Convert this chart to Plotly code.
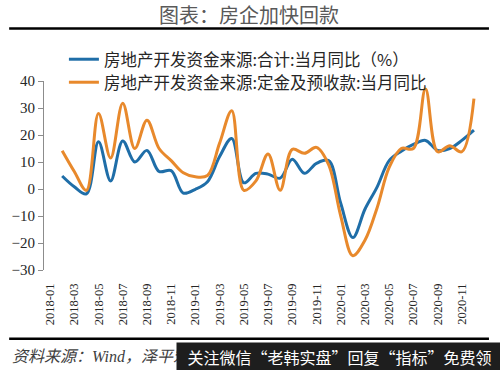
import plotly.graph_objects as go

months = [f"{y}-{m:02d}" for y in (2018, 2019, 2020) for m in range(1, 13)]
tick_labels = months[::2]

total_yoy = [None, 4.8, 0.8, -1.8, 17.5, 3.0, 17.8, 10.0, 14.3, 6.5, 6.8, -1.5,
             -0.1, 2.7, 12.0, 18.7, 2.3, 5.8, 5.5, 4.0, 11.0, 5.8, 9.5, 10.5,
             -5.3, -18.0, -7.5, 0.7, 10.5, 14.0, 16.5, 18.0, 14.3, 15.0, 18.0, 21.8]
deposit_yoy = [None, 14.2, 6.5, -0.5, 28.0, 11.5, 31.8, 15.0, 25.5, 15.0, 10.5, 6.0,
               4.5, 5.0, 17.0, 29.0, -0.5, 3.0, 13.0, -0.5, 14.7, 13.2, 15.4, 9.0,
               -10.0, -24.7, -19.0, -7.0, 8.0, 15.0, 15.0, 37.0, 13.8, 16.0, 13.8, 33.5]
boundary_ticks = [i + 1.5 for i in range(0, 35, 2)]

name_total = "房地产开发资金来源:合计:当月同比（%）"
name_deposit = "房地产开发资金来源:定金及预收款:当月同比"

W, H = 500, 370
ML, MR, MT, MB = 42, 20, 81, 100
PW, PH = W - ML - MR, H - MT - MB


def px(x):
    return (x - ML) / PW


def py(y):
    return (H - MB - y) / PH


fig = go.Figure()
fig.add_trace(go.Scatter(x=months, y=total_yoy, name=name_total, mode="lines",
                         legend="legend",
                         line=dict(color="#1F6EA8", width=3, shape="spline", smoothing=1.0)))
fig.add_trace(go.Scatter(x=months, y=deposit_yoy, name=name_deposit, mode="lines",
                         legend="legend2",
                         line=dict(color="#E8892C", width=3, shape="spline", smoothing=1.0)))

legend_font = dict(family="Noto Sans CJK SC", size=16.5, color="#262626")
fig.update_layout(
    width=W, height=H,
    margin=dict(l=ML, r=MR, t=MT, b=MB),
    paper_bgcolor="white", plot_bgcolor="white",
    font=dict(family="Liberation Serif, Noto Sans CJK SC", color="#262626"),
    showlegend=True,
    legend=dict(x=px(62), y=py(59.5), xanchor="left", yanchor="middle",
                bgcolor="rgba(0,0,0,0)", borderwidth=0, font=legend_font,
                itemwidth=30),
    legend2=dict(x=px(62), y=py(82.5), xanchor="left", yanchor="middle",
                 bgcolor="rgba(0,0,0,0)", borderwidth=0, font=legend_font,
                 itemwidth=30),
    xaxis=dict(type="category", categoryorder="array", categoryarray=months,
               range=[-0.5, 35.5], tickvals=tick_labels, ticktext=tick_labels,
               tickangle=-90, showline=False, showgrid=False, zeroline=False,
               ticks="", ticklabelstandoff=10,
               tickfont=dict(family="Liberation Serif", size=12.5, color="#262626")),
    xaxis2=dict(overlaying="x", anchor="free", position=30 / 70, type="linear",
                range=[-0.5, 35.5], tickvals=boundary_ticks, ticks="outside",
                ticklen=4, tickcolor="#8c8c8c", showticklabels=False,
                showline=True, linecolor="#8c8c8c", linewidth=1,
                showgrid=False, zeroline=False),
    yaxis=dict(range=[-30, 40], tickvals=list(range(-30, 41, 10)),
               showline=True, linecolor="#8c8c8c", linewidth=1,
               ticks="outside", ticklen=5, tickcolor="#8c8c8c",
               showgrid=False, zeroline=False,
               tickfont=dict(family="Liberation Serif", size=15, color="#262626")),
)

fig.add_annotation(text="图表：房企加快回款", xref="paper", yref="paper",
                   x=px(248), y=py(15), xanchor="center", yanchor="middle",
                   showarrow=False,
                   font=dict(family="Noto Sans CJK SC", size=20, color="#595959"))
for yy in (28.5, 338.7):
    fig.add_shape(type="line", xref="paper", yref="paper",
                  x0=px(7), x1=px(489), y0=py(yy), y1=py(yy),
                  line=dict(color="black", width=2.5))

fig.add_annotation(text="资料来源：Wind，泽平宏观", xref="paper", yref="paper",
                   x=px(8), y=py(356), xanchor="left", yanchor="middle",
                   showarrow=False,
                   font=dict(family="Liberation Serif, Noto Sans CJK SC", size=16,
                             color="#404040", style="italic"))
fig.add_annotation(text="关注微信“老韩实盘”回复“指标”免费领", xref="paper", yref="paper",
                   x=px(175), y=py(342), xanchor="left", yanchor="top",
                   width=325, height=28, borderpad=0, align="center", valign="middle",
                   bgcolor="#1e1e1e", showarrow=False,
                   font=dict(family="Noto Sans CJK SC", size=16, color="white"))

fig.write_html("out.html", config={"displayModeBar": False},
               post_script="document.body.style.margin='0';document.body.style.padding='0';")
